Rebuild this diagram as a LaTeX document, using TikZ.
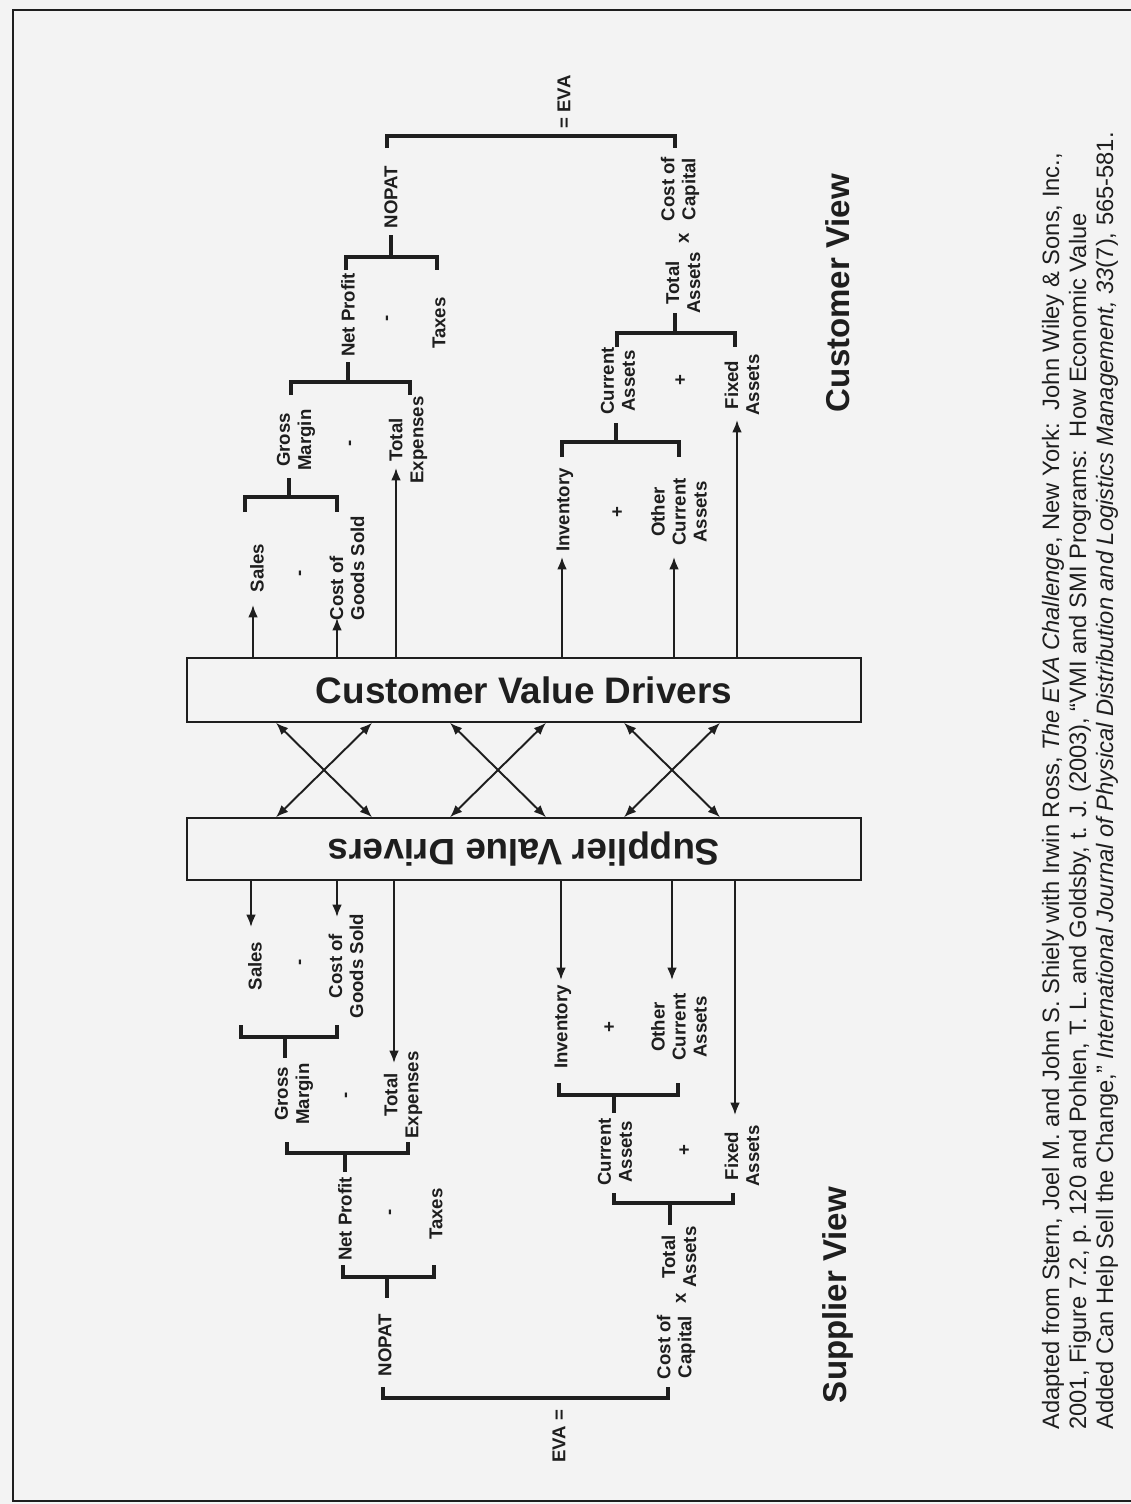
\documentclass[tikz,border=0pt]{standalone}
\usepackage{fontspec}
\setmainfont{Liberation Sans}
\usetikzlibrary{arrows.meta}
\definecolor{ink}{HTML}{1E1E1E}
\definecolor{paper}{HTML}{F3F3F3}

\begin{document}
\begin{tikzpicture}[x=0.02cm,y=-0.02cm,
    term/.style={rotate=90,font=\fontsize{10.6}{12}\selectfont\bfseries,align=center,inner sep=0pt,text=ink},
    view/.style={rotate=90,font=\fontsize{18.8}{22}\selectfont\bfseries,inner sep=0pt,text=ink},
    driver/.style={rectangle,draw=ink,line width=0.9pt,fill=paper,font=\fontsize{21}{24}\selectfont\bfseries,text=ink,minimum width=13.48cm},
    cite/.style={rotate=90,anchor=base west,font=\fontsize{13.5}{15}\selectfont,inner sep=0pt,text=ink},
    arr/.style={-{Latex[length=7pt,width=5.5pt]},line width=1.1pt,draw=ink},
    xarr/.style={{Latex[length=7pt,width=5.5pt]}-{Latex[length=7pt,width=5.5pt]},line width=1.1pt,draw=ink},
    brk/.style={line width=2.2pt,draw=ink}
]

% Page and frame
\fill[paper] (0,0) rectangle (1131,1504);
\useasboundingbox (0,0) rectangle (1131,1504);
\draw[ink,line width=1.2pt] (1131,10) -- (13,10) -- (13,1501) -- (1131,1501);

% Value driver boxes
\node[driver,minimum height=1.28cm] (cvd) at (524,690) {Customer Value Drivers};
\node[driver,rotate=180,minimum height=1.24cm] (svd) at (524,849) {Supplier Value Drivers};

% Links between the two boxes
\foreach \a/\b in {276/372,450/546,624/720} {
    \draw[xarr] (\a,0 |- cvd.south) -- (\b,0 |- svd.south);
    \draw[xarr] (\b,0 |- cvd.south) -- (\a,0 |- svd.south);
}

% Customer view
\node[term] (cSales) at (257,568) {Sales};
\node[term] (cMin1) at (302,573) {-};
\node[term,align=left] (cCogs) at (347,568) {Cost of\\Goods Sold};
\node[term] (cGross) at (296,440) {Gross\\Margin};
\node[term] (cMin2) at (352,443) {-};
\node[term] (cExp) at (408,440) {Total\\Expenses};
\node[term] (cNet) at (348,315) {Net Profit};
\node[term] (cMin3) at (389,318) {-};
\node[term] (cTax) at (439,323) {Taxes};
\node[term] (cNopat) at (391,197) {NOPAT};
\node[term] (cEva) at (564,102) {= EVA};
\node[term] (cInv) at (565,510) {Inventory};
\node[term] (cPlus1) at (618,512) {+};
\node[term] (cOth) at (679,512) {Other\\Current\\Assets};
\node[term] (cCur) at (618,381) {Current\\Assets};
\node[term] (cPlus2) at (681,380) {+};
\node[term] (cFix) at (742,385) {Fixed\\Assets};
\node[term] (cTot) at (683,283) {Total\\Assets};
\node[term] (cTimes) at (684,238) {x};
\node[term] (cCap) at (680,189) {Cost of\\Capital};
\node[view] (cView) at (838,293) {Customer View};

\coordinate (cSalesT) at (253,605);
\coordinate (cCogsT) at (337,618);
\coordinate (cExpT) at (396,468);
\coordinate (cInvT) at (562,557);
\coordinate (cOthT) at (674,557);
\coordinate (cFixT) at (737,420);
\foreach \t in {cSalesT,cCogsT,cExpT,cInvT,cOthT,cFixT}
    \draw[arr] (cvd.north -| \t) -- (\t);

\foreach \l/\r/\y/\e in {245/337/497/512,291/410/382/395,346/437/257/270,
                         387/675/136/148,562/679/442/457,617/735/333/347}
    \draw[brk] (\l,\e) |- (\r,\y) -- (\r,\e);
\foreach \x/\a/\b in {289/497/478,348/382/362,391/257/235,616/442/423,675/333/313}
    \draw[brk] (\x,\a) -- (\x,\b);

% Supplier view
\node[term] (sSales) at (255,966) {Sales};
\node[term] (sMin1) at (302,962) {-};
\node[term] (sCogs) at (346,966) {Cost of\\Goods Sold};
\node[term] (sGross) at (294,1094) {Gross\\Margin};
\node[term] (sMin2) at (348,1095) {-};
\node[term] (sExp) at (403,1095) {Total\\Expenses};
\node[term] (sNet) at (345,1219) {Net Profit};
\node[term] (sMin3) at (392,1212) {-};
\node[term] (sTax) at (436,1214) {Taxes};
\node[term] (sNopat) at (385,1345) {NOPAT};
\node[term] (sEva) at (559,1436) {EVA =};
\node[term] (sInv) at (563,1027) {Inventory};
\node[term] (sPlus1) at (610,1027) {+};
\node[term] (sOth) at (679,1027) {Other\\Current\\Assets};
\node[term] (sCur) at (615,1152) {Current\\Assets};
\node[term] (sPlus2) at (685,1150) {+};
\node[term] (sFix) at (742,1156) {Fixed\\Assets};
\node[term] (sTot) at (679,1257) {Total\\Assets};
\node[term] (sTimes) at (681,1298) {x};
\node[term] (sCap) at (676,1347) {Cost of\\Capital};
\node[view] (sView) at (838,1295) {Supplier View};

\coordinate (sSalesT) at (251,927);
\coordinate (sCogsT) at (337,917);
\coordinate (sExpT) at (394,1063);
\coordinate (sInvT) at (561,980);
\coordinate (sOthT) at (672,980);
\coordinate (sFixT) at (735,1115);
\foreach \t in {sSalesT,sCogsT,sExpT,sInvT,sOthT,sFixT}
    \draw[arr] (svd.north -| \t) -- (\t);

\foreach \l/\r/\y/\e in {241/337/1037/1025,287/408/1153/1142,343/434/1277/1265,
                         383/668/1398/1387,559/678/1095/1083,614/733/1203/1193}
    \draw[brk] (\l,\e) |- (\r,\y) -- (\r,\e);
\foreach \x/\a/\b in {285/1037/1058,345/1153/1172,387/1277/1298,614/1095/1113,670/1203/1225}
    \draw[brk] (\x,\a) -- (\x,\b);

% Source note
\node[cite] (cite1) at (1059,1430) {Adapted from Stern, Joel M. and John S. Shiely with Irwin Ross, \textit{The EVA Challenge}, New York:\ \ John Wiley \& Sons, Inc.,};
\node[cite] (cite2) at (1086,1430) {2001, Figure 7.2, p. 120 and Pohlen, T. L. and Goldsby, t. J. (2003), “VMI and SMI Programs:\ \ How Economic Value};
\node[cite] (cite3) at (1113,1430) {Added Can Help Sell the Change,” \textit{International Journal of Physical Distribution and Logistics Management, 33}(7), 565-581.};

\end{tikzpicture}
\end{document}
